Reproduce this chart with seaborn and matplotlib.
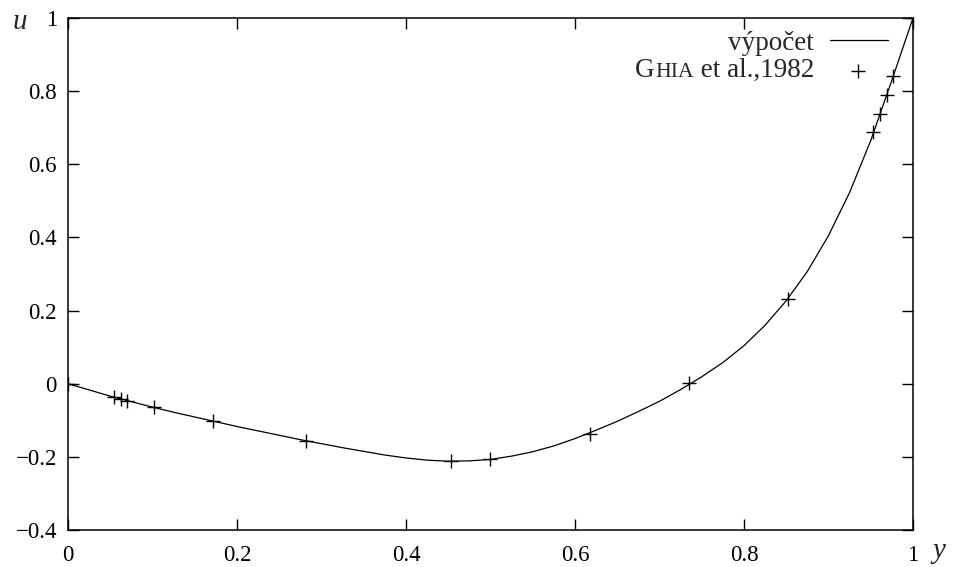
import numpy as np
import pandas as pd
import matplotlib
matplotlib.use("Agg")
import matplotlib.pyplot as plt
import seaborn as sns
from matplotlib.lines import Line2D

# computed profile (výpočet)
calc_y = [0.0, 0.025, 0.05, 0.075, 0.1, 0.125, 0.15, 0.175, 0.2, 0.225, 0.25, 0.275,
          0.3, 0.325, 0.35, 0.375, 0.4, 0.425, 0.45, 0.475, 0.5, 0.525, 0.55, 0.575,
          0.6, 0.625, 0.65, 0.675, 0.7, 0.725, 0.75, 0.775, 0.8, 0.825, 0.85, 0.875,
          0.9, 0.925, 0.95, 0.975, 1.0]
calc_u = [0.0, -0.017, -0.034, -0.049, -0.064, -0.078, -0.091, -0.104, -0.117, -0.129,
          -0.141, -0.153, -0.164, -0.175, -0.185, -0.195, -0.203, -0.209, -0.212,
          -0.211, -0.207, -0.198, -0.186, -0.170, -0.150, -0.127, -0.103, -0.076,
          -0.048, -0.016, 0.019, 0.058, 0.104, 0.160, 0.227, 0.307, 0.405, 0.523,
          0.665, 0.830, 1.0]

# Ghia et al. 1982 reference data
ghia_y = [1.0000, 0.9766, 0.9688, 0.9609, 0.9531, 0.8516, 0.7344, 0.6172, 0.5000,
          0.4531, 0.2813, 0.1719, 0.1016, 0.0703, 0.0625, 0.0547, 0.0000]
ghia_u = [1.0000, 0.84123, 0.78871, 0.73722, 0.68717, 0.23151, 0.00332, -0.13641,
          -0.20581, -0.21090, -0.15662, -0.10150, -0.06434, -0.04775, -0.04192,
          -0.03717, 0.0]

x_ticks = [0, 0.2, 0.4, 0.6, 0.8, 1]
x_tick_labels = ["0", "0.2", "0.4", "0.6", "0.8", "1"]
y_ticks = [-0.4, -0.2, 0, 0.2, 0.4, 0.6, 0.8, 1]
y_tick_labels = ["\u22120.4", "\u22120.2", "0", "0.2", "0.4", "0.6", "0.8", "1"]

sns.set_style("ticks")
plt.rcParams["font.family"] = ["Liberation Serif", "DejaVu Serif"]

TICK_FS = 16.5
LEG_FS = 19.5
LAB_FS = 21

fig = plt.figure(figsize=(9.54, 5.67), dpi=100)
ax = fig.add_axes([68 / 954, 37 / 567, 845 / 954, 512 / 567])

calc_df = pd.DataFrame({"y": calc_y, "u": calc_u})
ghia_df = pd.DataFrame({"y": ghia_y, "u": ghia_u})

sns.lineplot(data=calc_df, x="y", y="u", ax=ax, color="black", linewidth=0.9,
             sort=False, estimator=None)
sns.scatterplot(data=ghia_df, x="y", y="u", ax=ax, marker="+", color="black",
                s=90, linewidth=1.0, zorder=3)

ax.set_xlim(0, 1)
ax.set_ylim(-0.4, 1)
ax.set_xticks(x_ticks)
ax.set_xticklabels(x_tick_labels)
ax.set_yticks(y_ticks)
ax.set_yticklabels(y_tick_labels)
ax.tick_params(direction="in", length=8, width=1.0, top=True, right=True,
               colors="black", labelsize=TICK_FS)
ax.tick_params(axis="x", pad=11)
ax.tick_params(axis="y", pad=8)
for sp in ax.spines.values():
    sp.set_linewidth(1.1)
    sp.set_color("black")
ax.set_xlabel("")
ax.set_ylabel("")

# axis labels
fig.text(20 / 954, 1 - 22 / 567, "u", fontsize=LAB_FS, fontstyle="italic",
         ha="center", va="center")
fig.text(939 / 954, 1 - 551 / 567, "y", fontsize=LAB_FS, fontstyle="italic",
         ha="center", va="center")

# legend (manual, to allow small caps)
yb1 = (530 - 50) / 512
yb2 = (530 - 77) / 512
xr = (814 - 68) / 845
ax.text(xr, yb1, "výpočet", transform=ax.transAxes, fontsize=LEG_FS,
        ha="right", va="baseline")
ax.add_line(Line2D([(830 - 68) / 845, (888 - 68) / 845],
                   [(530 - 40) / 512, (530 - 40) / 512],
                   transform=ax.transAxes, color="black", linewidth=0.9))
t3 = ax.text(xr, yb2, " et al.,1982", transform=ax.transAxes, fontsize=LEG_FS,
             ha="right", va="baseline")
t2 = ax.annotate("HIA", xy=(0, yb2), xycoords=(t3, "axes fraction"),
                 fontsize=LEG_FS * 0.8, ha="right", va="baseline")
ax.annotate("G", xy=(0, yb2), xycoords=(t2, "axes fraction"),
            fontsize=LEG_FS, ha="right", va="baseline")
ax.plot([(858 - 68) / 845], [(530 - 71) / 512], transform=ax.transAxes,
        marker="+", color="black", markersize=9.5, markeredgewidth=1.0,
        linestyle="")

fig.savefig("out.png", dpi=100)
